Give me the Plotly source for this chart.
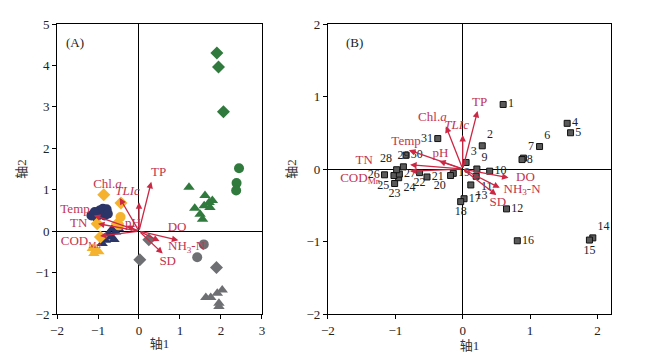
import plotly.graph_objects as go

# ---------------- Panel A data ----------------
green_dia_x = [1.90, 1.94, 2.06]
green_dia_y = [4.30, 3.96, 2.88]
green_cir_x = [2.44, 2.38, 2.37]
green_cir_y = [1.52, 1.16, 0.98]
green_tri_x = [1.22, 1.61, 1.79, 1.71, 1.59, 1.73, 1.36, 1.49, 1.55]
green_tri_y = [1.06, 0.86, 0.74, 0.69, 0.61, 0.57, 0.55, 0.41, 0.29]
gray_cir_x = [1.58, 1.42]
gray_cir_y = [-0.32, -0.63]
gray_dia_x = [0.24, 0.02, 1.89]
gray_dia_y = [-0.21, -0.69, -0.88]
gray_tri_x = [2.03, 1.91, 1.63, 1.75, 1.95, 1.95]
gray_tri_y = [-1.42, -1.50, -1.60, -1.60, -1.74, -1.82]
navy_cir_x = [-1.16, -1.08, -0.96, -0.88, -0.79, -0.84, -1.04, -0.76]
navy_cir_y = [0.38, 0.46, 0.50, 0.54, 0.53, 0.38, 0.34, 0.42]
navy_tri_x = [-0.65, -0.57, -0.74, -0.69, -0.82, -0.61, -0.90, -0.50]
navy_tri_y = [0.06, -0.02, -0.06, -0.14, -0.22, -0.20, -0.30, 0.06]
orange_dia_x = [-0.86, -0.44, -1.02, -0.53, -0.94]
orange_dia_y = [0.88, 0.68, 0.18, 0.18, -0.14]
orange_cir_x = [-0.45, -0.49]
orange_cir_y = [0.34, 0.14]
orange_tri_x = [-1.14, -1.06, -1.10, -0.98]
orange_tri_y = [-0.42, -0.46, -0.54, -0.50]

env_vars = ["TP", "<i>TLIc</i>", "Chl.<i>a</i>", "Temp", "TN", "COD<sub>Mn</sub>",
            "pH", "DO", "NH<sub>3</sub>-N", "SD"]
A_load_x = [0.30, 0.00, -0.47, -1.10, -1.00, -0.95, -0.30, 0.96, 0.50, 0.58]
A_load_y = [1.19, 0.70, 0.80, 0.38, 0.18, -0.12, 0.13, -0.22, -0.24, -0.54]
A_lab_x = [0.48, -0.28, -0.77, -1.56, -1.47, -1.42, -0.15, 0.93, 1.16, 0.70]
A_lab_y = [1.42, 0.95, 1.12, 0.51, 0.17, -0.26, 0.17, 0.08, -0.38, -0.74]

# ---------------- Panel B data ----------------
site_ids = [str(i) for i in range(1, 32)]
site_x = [0.60, 0.29, 0.05, 1.55, 1.60, 1.14, 0.90, 0.88, 0.21, 0.40, 0.20,
          0.65, 0.12, 1.93, 1.88, 0.81, 0.02, -0.03, -0.14, -0.18, -0.53,
          -0.64, -1.01, -0.95, -1.02, -1.16, -0.94, -0.98, -0.88, -0.84, -0.37]
site_y = [0.89, 0.32, 0.09, 0.63, 0.50, 0.31, 0.15, 0.13, 0.00, -0.03, -0.10,
          -0.55, -0.22, -0.95, -0.98, -0.99, -0.41, -0.45, -0.06, -0.09, -0.11,
          -0.05, -0.20, -0.12, -0.09, -0.08, -0.07, -0.01, 0.03, 0.19, 0.42]
site_textpos = ["middle right", "top right", "top right", "middle right", "middle right",
                "top right", "top right", "middle right", "top right", "middle right",
                "bottom right", "middle right", "bottom right", "top right", "bottom center",
                "middle right", "middle right", "bottom center", "middle right", "bottom left",
                "middle right", "bottom center", "bottom center", "bottom right", "bottom left",
                "middle left", "middle right", "top left", "top center", "middle right",
                "middle left"]
B_load_x = [0.22, 0.00, -0.25, -0.80, -0.78, -0.78, -0.35, 0.68, 0.55, 0.50]
B_load_y = [0.80, 0.47, 0.59, 0.26, 0.06, -0.03, 0.11, -0.12, -0.26, -0.36]
B_lab_x = [0.25, -0.09, -0.45, -0.84, -1.46, -1.52, -0.33, 0.93, 0.88, 0.52]
B_lab_y = [0.91, 0.59, 0.71, 0.38, 0.12, -0.13, 0.21, -0.12, -0.28, -0.47]

RED = "#cc2844"
LABEL_RED = "#c23450"
GREEN = "#2f7a3c"
GRAY = "#6e6f72"
NAVY = "#2c3567"
ORANGE = "#f4b22e"
FONT = "Liberation Serif, Times New Roman, serif"
CJK = "Liberation Serif, Noto Sans CJK SC, serif"

fig = go.Figure()

def add_pts(x, y, color, symbol, size, ax="x", ay="y"):
    fig.add_trace(go.Scatter(x=x, y=y, mode="markers", xaxis=ax, yaxis=ay,
                             marker=dict(color=color, symbol=symbol, size=size,
                                         line=dict(width=0)),
                             showlegend=False, hoverinfo="skip"))

add_pts(green_dia_x, green_dia_y, GREEN, "diamond", 10)
add_pts(green_cir_x, green_cir_y, GREEN, "circle", 10)
add_pts(green_tri_x, green_tri_y, GREEN, "triangle-up", 10)
add_pts(gray_cir_x, gray_cir_y, GRAY, "circle", 10)
add_pts(gray_dia_x, gray_dia_y, GRAY, "diamond", 10)
add_pts(gray_tri_x, gray_tri_y, GRAY, "triangle-up", 10)
add_pts(navy_cir_x, navy_cir_y, NAVY, "circle", 10)
add_pts(navy_tri_x, navy_tri_y, NAVY, "triangle-up", 10)
add_pts(orange_dia_x, orange_dia_y, ORANGE, "diamond", 10)
add_pts(orange_cir_x, orange_cir_y, ORANGE, "circle", 10)
add_pts(orange_tri_x, orange_tri_y, ORANGE, "triangle-up", 10)

# panel A labels
fig.add_trace(go.Scatter(x=A_lab_x, y=A_lab_y, text=env_vars, mode="text",
                         xaxis="x", yaxis="y", showlegend=False, hoverinfo="skip",
                         textfont=dict(family=FONT, size=13, color=LABEL_RED)))

# panel B sites
fig.add_trace(go.Scatter(x=site_x, y=site_y, text=site_ids, mode="markers+text",
                         textposition=site_textpos, xaxis="x2", yaxis="y2",
                         marker=dict(symbol="square", size=6, color="#5a5a5a",
                                     line=dict(color="#111111", width=1)),
                         textfont=dict(family=FONT, size=12, color="#222222"),
                         showlegend=False, hoverinfo="skip"))
fig.add_trace(go.Scatter(x=B_lab_x, y=B_lab_y, text=env_vars, mode="text",
                         xaxis="x2", yaxis="y2", showlegend=False, hoverinfo="skip",
                         textfont=dict(family=FONT, size=13, color=LABEL_RED)))

annotations = []
for lx, ly in zip(A_load_x, A_load_y):
    annotations.append(dict(x=lx, y=ly, ax=0, ay=0, xref="x", yref="y", axref="x", ayref="y",
                            showarrow=True, arrowhead=2, arrowsize=1, arrowwidth=1.3,
                            arrowcolor=RED, text=""))
for lx, ly in zip(B_load_x, B_load_y):
    annotations.append(dict(x=lx, y=ly, ax=0, ay=0, xref="x2", yref="y2", axref="x2", ayref="y2",
                            showarrow=True, arrowhead=2, arrowsize=1, arrowwidth=1.3,
                            arrowcolor=RED, text=""))
annotations.append(dict(x=-1.55, y=4.55, xref="x", yref="y", text="(A)", showarrow=False,
                        font=dict(family=FONT, size=13, color="#222")))
annotations.append(dict(x=-1.6, y=1.74, xref="x2", yref="y2", text="(B)", showarrow=False,
                        font=dict(family=FONT, size=13, color="#222")))

axis_common = dict(showline=True, mirror=True, linecolor="black", linewidth=1,
                   ticks="outside", ticklen=4, tickcolor="black", showgrid=False,
                   zeroline=True, zerolinecolor="black", zerolinewidth=1.2,
                   automargin=False,
                   tickfont=dict(family=FONT, size=13, color="#222"))

fig.update_layout(
    width=660, height=356, margin=dict(l=57, r=49, t=24, b=42),
    plot_bgcolor="white", paper_bgcolor="white", annotations=annotations,
    xaxis=dict(axis_common, domain=[0, 0.370], range=[-2, 3], tickvals=[-2, -1, 0, 1, 2, 3],
               title=dict(text="轴1", font=dict(family=CJK, size=13, color="#333"), standoff=2)),
    yaxis=dict(axis_common, range=[-2, 5], tickvals=[-2, -1, 0, 1, 2, 3, 4, 5],
               title=dict(text="轴2", font=dict(family=CJK, size=13, color="#333"), standoff=6)),
    xaxis2=dict(axis_common, domain=[0.489, 1], range=[-2, 2.2], tickvals=[-2, -1, 0, 1, 2],
                anchor="y2",
                title=dict(text="轴1", font=dict(family=CJK, size=13, color="#333"), standoff=2)),
    yaxis2=dict(axis_common, range=[-2, 2], tickvals=[-2, -1, 0, 1, 2], anchor="x2",
                title=dict(text="轴2", font=dict(family=CJK, size=13, color="#333"), standoff=6)),
)

fig.write_html("out.html", config={"displayModeBar": False},
               post_script="document.body.style.margin='0';document.body.style.overflow='hidden';")
